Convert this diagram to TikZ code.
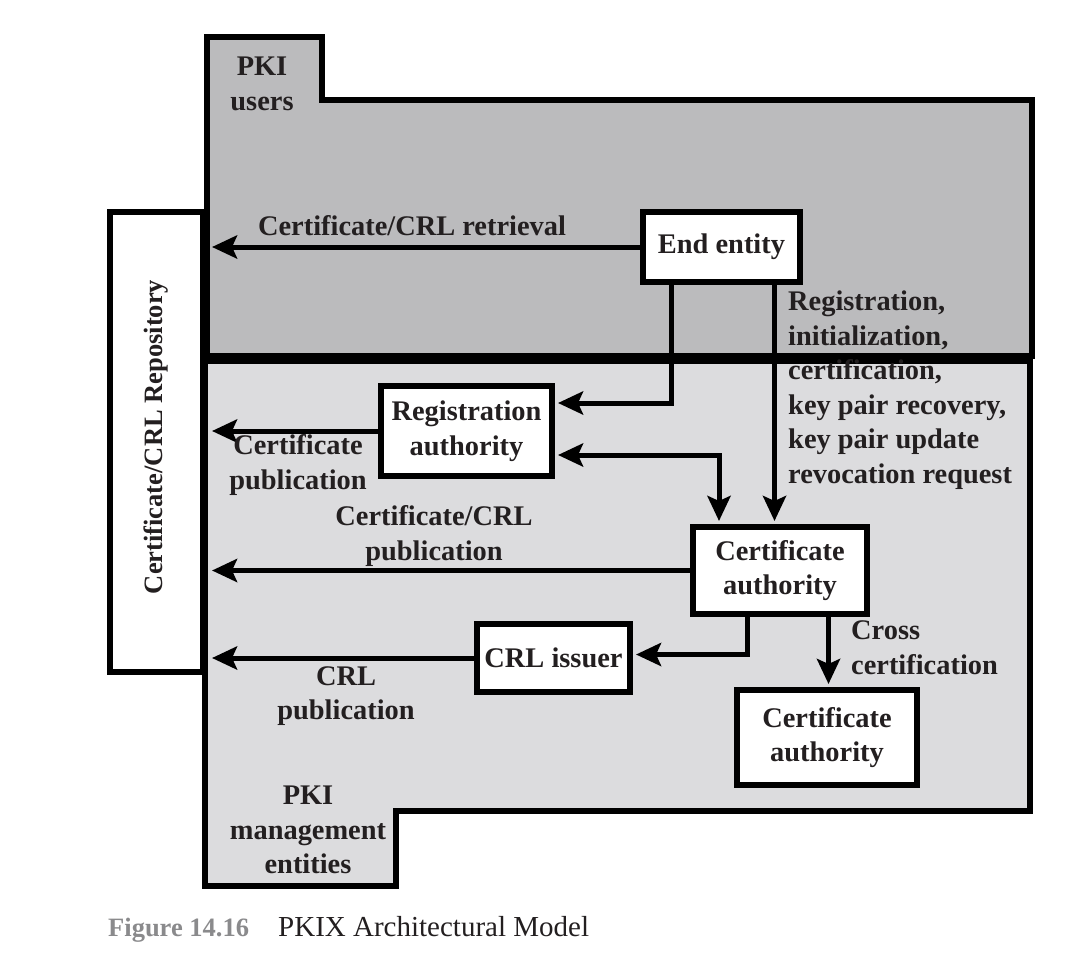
\documentclass[tikz,border=0pt]{standalone}
\usepackage{fontspec}
\setmainfont{Liberation Serif}
\usetikzlibrary{arrows.meta}
\definecolor{usersgray}{RGB}{187,187,189}
\definecolor{mgmtgray}{RGB}{220,220,222}
\definecolor{txt}{RGB}{35,31,32}
\definecolor{capgray}{RGB}{138,138,140}
\newcommand{\bigbf}{\fontsize{28.4pt}{34.5pt}\selectfont\bfseries}
\newcommand{\repofont}{\fontsize{26.5pt}{32pt}\selectfont\bfseries}
\newcommand{\capfont}{\fontsize{29pt}{34.5pt}\selectfont}
\newcommand{\capnofont}{\fontsize{26.5pt}{34.5pt}\selectfont\bfseries}
\begin{document}
\begin{tikzpicture}[x=1pt,y=-1pt,
  region/.style={draw=black,line width=6pt,line join=miter},
  ent/.style={draw=black,line width=6pt,fill=white,inner sep=0pt,align=center,font=\bigbf,text=txt},
  lbl/.style={inner sep=0pt,align=center,font=\bigbf,text=txt},
  lbll/.style={inner sep=0pt,align=left,font=\bigbf,text=txt},
  tipa/.tip={Stealth[length=25pt,width=23pt,inset=5pt]},
  arr/.style={line width=5pt,-tipa,shorten >=3pt},
  arrr/.style={line width=5pt,-tipa,shorten >=6pt},
  arrb/.style={line width=5pt,tipa-tipa,shorten >=3pt,shorten <=3pt},
]
\useasboundingbox (0,0) rectangle (1086,964);
% regions
\draw[region,fill=mgmtgray] (205,360.5) -- (1030,360.5) -- (1030,810.5) -- (396,810.5) -- (396,886) -- (205,886) -- cycle;
\draw[region,fill=usersgray] (206.5,36.5) -- (321.5,36.5) -- (321.5,100) -- (1032,100) -- (1032,355.5) -- (206.5,355.5) -- cycle;
% repository
\node[ent,minimum width=93pt,minimum height=460pt] (repo) at (156.5,442) {};
\node[lbl,rotate=90,font=\repofont] (repotxt) at (156,437) {Certificate/CRL Repository};
% entities
\node[ent,minimum width=157pt,minimum height=70pt] (ee) at (721.5,247) {End entity};
\node[ent,minimum width=171pt,minimum height=90pt] (ra) at (466.5,431) {Registration\\authority};
\node[ent,minimum width=174pt,minimum height=87pt] (ca) at (780,570.5) {Certificate\\authority};
\node[ent,minimum width=153pt,minimum height=68pt] (crl) at (553.5,658) {CRL issuer};
\node[ent,minimum width=180pt,minimum height=95pt] (ca2) at (827,737.5) {Certificate\\authority};
% connectors
\draw[arrr] (ee.west) -- (ee.west -| repo.east);
\draw[arr] ([xshift=-50pt]ee.south) |- ([yshift=28pt]ra.east);
\draw[arr] ([xshift=53pt]ee.south) -- ([xshift=53pt]ee.south |- ca.north);
\draw[arrb] ([yshift=-24pt]ra.east) -| ([xshift=-61pt]ca.north);
\draw[arrr] (ra.west) -- (ra.west -| repo.east);
\draw[arrr] (ca.west) -- (ca.west -| repo.east);
\draw[arr] ([xshift=-32.5pt]ca.south) |- ([yshift=3.5pt]crl.east);
\draw[arrr] (crl.west) -- (crl.west -| repo.east);
\draw[arr] ([xshift=48.5pt]ca.south) -- ([xshift=48.5pt]ca.south |- ca2.north);
% labels
\node[lbl] (lusers) at (262,84) {PKI\\users};
\node[lbl] (lmgmt) at (308,830) {PKI\\management\\entities};
\node[lbl] (lretr) at (412,226) {Certificate/CRL retrieval};
\node[lbll,anchor=west] (lreg) at (788,390) {Registration,\\initialization,\\certification,\\key pair recovery,\\key pair update\\revocation request};
\node[lbl] (lcpub) at (298,465) {Certificate\\publication};
\node[lbl] (lccpub) at (434,536) {Certificate/CRL\\publication};
\node[lbl] (lcrlpub) at (346,696) {CRL\\publication};
\node[lbll,anchor=west] (lcross) at (851,647.5) {Cross\\certification};
% caption
\node[anchor=base west,inner sep=0pt,font=\capnofont,text=capgray] (figno) at (108,936) {Figure 14.16};
\node[anchor=base west,inner sep=0pt,font=\capfont,text=txt] (figtitle) at (278,936) {PKIX Architectural Model};
\end{tikzpicture}
\end{document}
